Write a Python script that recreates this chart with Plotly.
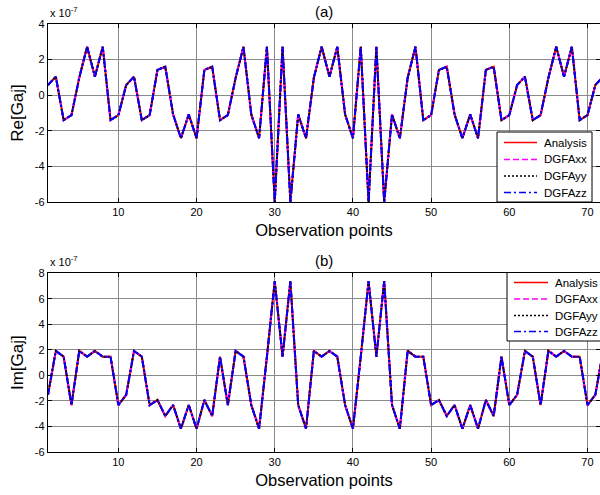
import plotly.graph_objects as go
from plotly.subplots import make_subplots

# Observation point indices
obs_points = list(range(1, 73))

# Real part of Gaj (units of 1e-7)
re_gaj = [
    0.57, 1.04, -1.40, -1.12, 0.98, 2.72, 1.04, 2.72, -1.40, -1.12,
    0.57, 1.04, -1.40, -1.12, 1.42, 1.60, -1.08, -2.42, -1.08, -2.42,
    1.42, 1.60, -1.40, -1.12, 0.98, 2.72, -1.08, -2.42, 2.72, -6.00,
    2.72, -6.00, -1.08, -2.42, 0.98, 2.72, 1.04, 2.72, -1.08, -2.42,
    2.72, -6.00, 2.72, -6.00, -1.08, -2.42, 0.98, 2.72, -1.40, -1.12,
    1.42, 1.60, -1.08, -2.42, -1.08, -2.42, 1.42, 1.60, -1.40, -1.12,
    0.57, 1.04, -1.40, -1.12, 0.98, 2.72, 1.04, 2.72, -1.40, -1.12,
    0.57, 1.04,
]

# Imaginary part of Gaj (units of 1e-7)
im_gaj = [
    -1.52, 1.92, 1.47, -2.32, 1.92, 1.47, 1.92, 1.47, 1.47, -2.32,
    -1.52, 1.92, 1.47, -2.32, -1.93, -3.18, -2.32, -4.18, -2.32, -4.18,
    -1.93, -3.18, 1.47, -2.32, 1.92, 1.47, -2.32, -4.18, 1.47, 7.38,
    1.47, 7.38, -2.32, -4.18, 1.92, 1.47, 1.92, 1.47, -2.32, -4.18,
    1.47, 7.38, 1.47, 7.38, -2.32, -4.18, 1.92, 1.47, 1.47, -2.32,
    -1.93, -3.18, -2.32, -4.18, -2.32, -4.18, -1.93, -3.18, 1.47, -2.32,
    -1.52, 1.92, 1.47, -2.32, 1.92, 1.47, 1.92, 1.47, 1.47, -2.32,
    -1.52, 1.92,
]

series_names = ["Analysis", "DGFAxx", "DGFAyy", "DGFAzz"]

# The DGFA results coincide with the analytical solution at this scale
re_series = {"Analysis": re_gaj, "DGFAxx": re_gaj, "DGFAyy": re_gaj, "DGFAzz": re_gaj}
im_series = {"Analysis": im_gaj, "DGFAxx": im_gaj, "DGFAyy": im_gaj, "DGFAzz": im_gaj}

# MATLAB-like line styles: '-', '--', ':', '-.'
styles = {
    "Analysis": dict(color="#ff0000", dash="solid"),
    "DGFAxx": dict(color="#ff00ff", dash="6px,3px"),
    "DGFAyy": dict(color="#000000", dash="2px,2px"),
    "DGFAzz": dict(color="#0000ff", dash="7px,3px,2px,3px"),
}

x_ticks = [10, 20, 30, 40, 50, 60, 70]
re_ticks = [-6, -4, -2, 0, 2, 4]
im_ticks = [-6, -4, -2, 0, 2, 4, 6, 8]

FONT = "Liberation Sans, Arial, sans-serif"

# Page geometry (pixels) used to place the boxed legends
W, H = 600, 495
ML, MR, MT, MB = 48, 0, 24, 43
PW, PH = W - ML - MR, H - MT - MB


def px_x(px):
    return (px - ML) / PW


def px_y(py):
    return (H - MB - py) / PH


fig = make_subplots(rows=2, cols=1)

for name, values in re_series.items():
    st = styles[name]
    fig.add_trace(go.Scatter(x=obs_points, y=values, mode="lines", name=name, showlegend=False,
                             line=dict(color=st["color"], dash=st["dash"], width=2)),
                  row=1, col=1)
for name, values in im_series.items():
    st = styles[name]
    fig.add_trace(go.Scatter(x=obs_points, y=values, mode="lines", name=name, showlegend=False,
                             line=dict(color=st["color"], dash=st["dash"], width=2)),
                  row=2, col=1)

axis_common = dict(
    showline=True, linecolor="black", linewidth=1.3, mirror="allticks",
    ticks="inside", ticklen=4, tickcolor="black",
    showgrid=True, gridcolor="#8a8a8a", gridwidth=1,
    zeroline=False, tickfont=dict(family=FONT, size=11, color="black"),
)

fig.update_xaxes(range=[1, 71.6], tickvals=x_ticks, **axis_common)
fig.update_xaxes(title=dict(text="Observation points", font=dict(family=FONT, size=16.5, color="black"),
                            standoff=7))
fig.update_yaxes(**axis_common)
fig.update_yaxes(range=[-6, 4], tickvals=re_ticks, ticktext=[str(v) for v in re_ticks],
                 title=dict(text="Re[Gaj]", font=dict(family=FONT, size=17, color="black"), standoff=6),
                 row=1, col=1)
fig.update_yaxes(range=[-6, 8], tickvals=im_ticks, ticktext=[str(v) for v in im_ticks],
                 title=dict(text="Im[Gaj]", font=dict(family=FONT, size=17, color="black"), standoff=6),
                 row=2, col=1)

fig.update_layout(
    xaxis=dict(domain=[0, 1]), yaxis=dict(domain=[px_y(202), 1.0]),
    xaxis2=dict(domain=[0, 1]), yaxis2=dict(domain=[0.0, px_y(273.3)]),
)

shapes = []
annotations = []


def add_legend(box, sample_x, text_x, rows_y):
    x0, y0, x1, y1 = box
    shapes.append(dict(type="rect", xref="paper", yref="paper", layer="above",
                       x0=px_x(x0), x1=px_x(x1), y0=px_y(y1), y1=px_y(y0),
                       fillcolor="white", line=dict(color="black", width=1)))
    for name, ry in zip(series_names, rows_y):
        st = styles[name]
        shapes.append(dict(type="line", xref="paper", yref="paper", layer="above",
                           x0=px_x(sample_x[0]), x1=px_x(sample_x[1]), y0=px_y(ry), y1=px_y(ry),
                           line=dict(color=st["color"], dash=st["dash"], width=1.5)))
        annotations.append(dict(text=name, x=px_x(text_x), y=px_y(ry), xref="paper", yref="paper",
                                xanchor="left", yanchor="middle", showarrow=False,
                                font=dict(family=FONT, size=11.5, color="black")))


add_legend((497, 132, 592, 202), (504, 537), 542, [142.5, 159.5, 176, 192.5])
add_legend((507, 272.5, 604, 341), (514, 548), 553, [282.5, 299, 315.5, 331.5])

annotations += [
    dict(text="(a)", x=0.5, y=1.0, xref="paper", yref="paper", yanchor="middle", yshift=13,
         showarrow=False, font=dict(family=FONT, size=15, color="black")),
    dict(text="(b)", x=0.5, y=px_y(273.3), xref="paper", yref="paper", yanchor="middle", yshift=13,
         showarrow=False, font=dict(family=FONT, size=15, color="black")),
    dict(text="x 10<sup>-7</sup>", x=0, y=1.0, xref="paper", yref="paper", xanchor="left",
         yanchor="bottom", yshift=3, showarrow=False, font=dict(family=FONT, size=11, color="black")),
    dict(text="x 10<sup>-7</sup>", x=0, y=px_y(273.3), xref="paper", yref="paper", xanchor="left",
         yanchor="bottom", yshift=3, showarrow=False, font=dict(family=FONT, size=11, color="black")),
]

fig.update_layout(
    width=W, height=H,
    margin=dict(l=ML, r=MR, t=MT, b=MB),
    paper_bgcolor="white", plot_bgcolor="white",
    font=dict(family=FONT, color="black"),
    shapes=shapes,
    annotations=annotations,
    showlegend=False,
)

fig.write_html("out.html")
